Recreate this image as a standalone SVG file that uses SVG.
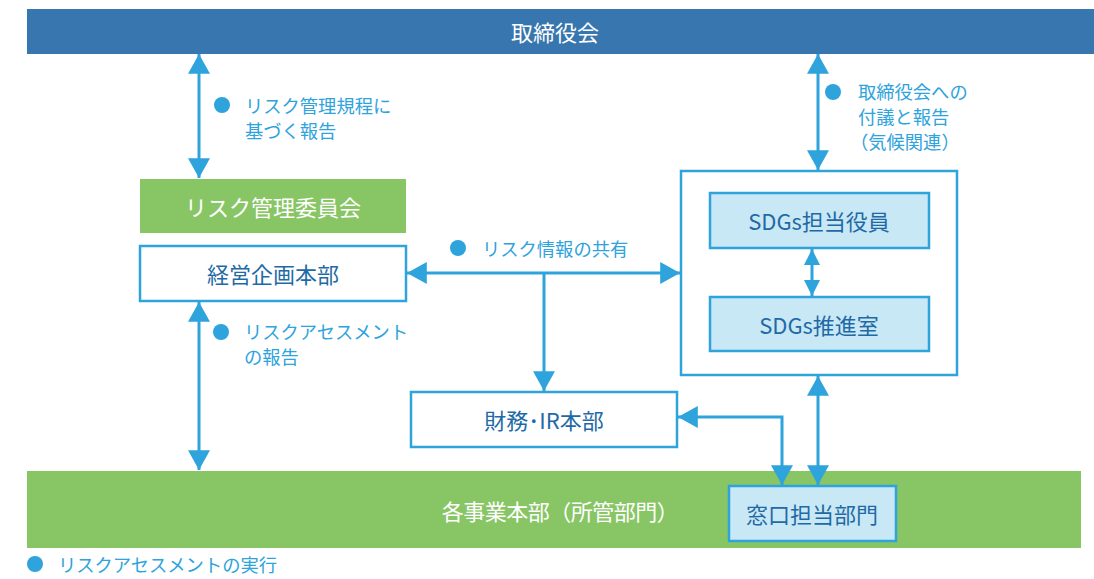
<svg xmlns="http://www.w3.org/2000/svg" width="1094" height="579" viewBox="0 0 1094 579">
<style>
text{font-family:"Noto Sans CJK JP","Noto Sans",sans-serif}
.conn{fill:none;stroke:#2ea3dc;stroke-width:3}
.box{fill:#fff;stroke:#2ea3dc;stroke-width:2.5}
.sbox{fill:#c9e8f5;stroke:#2ea3dc;stroke-width:2.5}
.bt{font-size:22px;fill:#1f6aa6;text-anchor:middle;dominant-baseline:central}
.wt{font-size:22px;fill:#fff;text-anchor:middle;dominant-baseline:central}
.lb{font-size:18.3px;fill:#2ea3dc;dominant-baseline:central}
.dot{fill:#2ea3dc}
</style>
<defs>
<marker id="ah" markerUnits="userSpaceOnUse" markerWidth="20" markerHeight="22" viewBox="0 0 18 20" refX="18" refY="10" orient="auto-start-reverse"><path d="M0,0 L18,10 L0,20 z" fill="#2ea3dc"/></marker>
<marker id="ahs" markerUnits="userSpaceOnUse" markerWidth="16" markerHeight="16" viewBox="0 0 14 14" refX="14" refY="7" orient="auto-start-reverse"><path d="M0,0 L14,7 L0,14 z" fill="#2ea3dc"/></marker>
</defs>
<g id="board"><rect x="27" y="9" width="1067" height="45" fill="#3776ae"/><text class="wt" x="555" y="31">取締役会</text></g>
<g id="divisions"><rect x="27" y="471" width="1054" height="77" fill="#88c665"/><text class="wt" x="560" y="510" letter-spacing="-0.5">各事業本部（所管部門）</text></g>
<g id="riskcommittee"><rect x="140" y="179" width="266" height="54" fill="#88c665"/><text class="wt" x="273" y="206">リスク管理委員会</text></g>
<g id="planning"><rect class="box" x="140" y="246" width="266" height="55"/><text class="bt" x="273" y="273">経営企画本部</text></g>
<g id="finance"><rect class="box" x="411" y="392" width="266" height="55"/><text class="bt" x="544" y="419">財務･IR本部</text></g>
<g id="sdgsgroup"><rect class="box" x="681" y="171" width="276" height="204"/></g>
<g id="sdgsofficer"><rect class="sbox" x="710" y="193" width="219" height="55"/><text class="bt" x="819" y="220">SDGs担当役員</text></g>
<g id="sdgsoffice"><rect class="sbox" x="710" y="297" width="219" height="54"/><text class="bt" x="819" y="324">SDGs推進室</text></g>
<g id="contact"><rect class="sbox" x="729" y="486" width="167" height="55"/><text class="bt" x="812" y="513">窓口担当部門</text></g>
<g id="connectors">
<line class="conn" x1="199" y1="54" x2="199" y2="178" marker-start="url(#ah)" marker-end="url(#ah)"/>
<line class="conn" x1="199" y1="302" x2="199" y2="470" marker-start="url(#ah)" marker-end="url(#ah)"/>
<line class="conn" x1="407" y1="273" x2="680" y2="273" marker-start="url(#ah)" marker-end="url(#ah)"/>
<line class="conn" x1="544" y1="273" x2="544" y2="391" marker-end="url(#ah)"/>
<line class="conn" x1="818" y1="54" x2="818" y2="170" marker-start="url(#ah)" marker-end="url(#ah)"/>
<line class="conn" x1="812" y1="249" x2="812" y2="296" marker-start="url(#ahs)" marker-end="url(#ahs)"/>
<line class="conn" x1="818" y1="376" x2="818" y2="485" marker-start="url(#ah)" marker-end="url(#ah)"/>
<polyline class="conn" points="678,417 782,417 782,485" marker-start="url(#ah)" marker-end="url(#ah)"/>
</g>
<g id="labels">
<circle class="dot" cx="222" cy="105" r="8"/><text class="lb" x="245" y="105">リスク管理規程に</text><text class="lb" x="245" y="130">基づく報告</text>
<circle class="dot" cx="833" cy="92" r="8"/><text class="lb" x="858" y="91">取締役会への</text><text class="lb" x="858" y="116">付議と報告</text><text class="lb" x="850" y="141">（気候関連）</text>
<circle class="dot" cx="458" cy="248" r="8"/><text class="lb" x="482" y="248">リスク情報の共有</text>
<circle class="dot" cx="221" cy="332" r="8"/><text class="lb" x="244" y="331">リスクアセスメント</text><text class="lb" x="244" y="356">の報告</text>
<circle class="dot" cx="35" cy="564" r="8"/><text class="lb" x="58" y="564">リスクアセスメントの実行</text>
</g>
</svg>
